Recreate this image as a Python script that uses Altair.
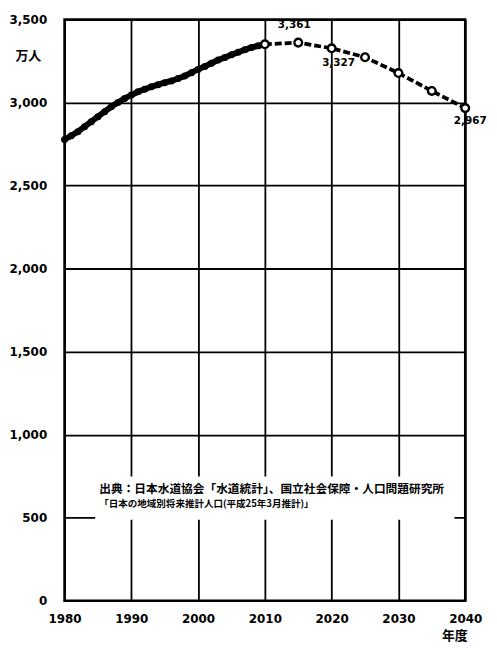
import altair as alt
import pandas as pd

# Historical (annual) values, 万人
hist_years = list(range(1980, 2011))
hist_vals = [2778, 2800, 2825, 2855, 2885, 2915, 2945, 2975, 3000, 3025,
             3045, 3065, 3080, 3095, 3108, 3120, 3130, 3145, 3160, 3180,
             3200, 3218, 3237, 3256, 3272, 3288, 3303, 3318, 3332, 3342,
             3351]

# Projection (every 5 years)
proj_years = [2010, 2015, 2020, 2025, 2030, 2035, 2040]
proj_vals = [3351, 3361, 3327, 3273, 3178, 3070, 2967]

# Labelled values
lab_years = [2015, 2020, 2040]
lab_vals = [3361, 3327, 2967]
lab_texts = ["3,361", "3,327", "2,967"]

source_line1 = "出典：日本水道協会「水道統計」、国立社会保障・人口問題研究所"
source_line2 = "「日本の地域別将来推計人口(平成25年3月推計)」"

x_ticks = [1980, 1990, 2000, 2010, 2020, 2030, 2040]
y_ticks = [0, 500, 1000, 1500, 2000, 2500, 3000, 3500]

hist = pd.DataFrame({"year": hist_years, "value": hist_vals})
proj = pd.DataFrame({"year": proj_years, "value": proj_vals})
labs = pd.DataFrame({"year": lab_years, "value": lab_vals, "text": lab_texts})

xscale = alt.Scale(domain=[1980, 2040], nice=False, zero=False)
yscale = alt.Scale(domain=[0, 3500], nice=False)

X = alt.X("year:Q", scale=xscale,
          axis=alt.Axis(values=x_ticks, format="d", title="年度",
                        titleAngle=0, titleX=393, titleY=29,
                        titleAlign="center", titleBaseline="top",
                        titleFontSize=13, titleFontWeight="bold",
                        titleFont="Noto Sans CJK JP",
                        labelFontSize=12, labelFontWeight="bold",
                        labelFlush=False, labelOverlap=False,
                        labelPadding=13, tickSize=0, domain=False,
                        grid=True, gridColor="black", gridWidth=1.8,
                        gridOpacity=1))
Y = alt.Y("value:Q", scale=yscale,
          axis=alt.Axis(values=y_ticks, format=",d", title="万人",
                        titleAngle=0, titleX=-37, titleY=36,
                        titleAlign="center", titleBaseline="middle",
                        titleFontSize=13, titleFontWeight="bold",
                        titleFont="Noto Sans CJK JP",
                        labelFontSize=12, labelFontWeight="bold",
                        labelFlush=False, labelOverlap=False,
                        labelPadding=18, tickSize=0, domain=False,
                        grid=True, gridColor="black", gridWidth=1.8,
                        gridOpacity=1))

base_grid = alt.Chart(hist).mark_line(opacity=0).encode(x=X, y=Y)

# white box behind the source note
box = alt.Chart(pd.DataFrame({"x": [1984.6], "x2": [2038.4],
                              "y": [488], "y2": [748]})).mark_rect(
    color="white").encode(
    x=alt.X("x:Q", scale=xscale), x2="x2:Q",
    y=alt.Y("y:Q", scale=yscale), y2="y2:Q")

notes = pd.DataFrame({"x": [1985.2, 1985.2], "y": [675, 585],
                      "text": [source_line1, source_line2]})
note1 = alt.Chart(notes.iloc[[0]]).mark_text(
    align="left", baseline="middle", fontSize=11.8, fontWeight="bold",
    font="Noto Sans CJK JP", color="black").encode(
    x=alt.X("x:Q", scale=xscale), y=alt.Y("y:Q", scale=yscale), text="text:N")
note2 = alt.Chart(notes.iloc[[1]]).mark_text(
    align="left", baseline="middle", fontSize=9.6, fontWeight="bold",
    font="Noto Sans CJK JP", color="black").encode(
    x=alt.X("x:Q", scale=xscale), y=alt.Y("y:Q", scale=yscale), text="text:N")

hist_line = alt.Chart(hist).mark_line(color="black", strokeWidth=6).encode(
    x=alt.X("year:Q", scale=xscale), y=alt.Y("value:Q", scale=yscale))
hist_pts = alt.Chart(hist).mark_circle(color="black", size=50, opacity=1).encode(
    x=alt.X("year:Q", scale=xscale), y=alt.Y("value:Q", scale=yscale))

proj_line = alt.Chart(proj).mark_line(color="black", strokeWidth=3.8,
                                      strokeDash=[7, 3]).encode(
    x=alt.X("year:Q", scale=xscale), y=alt.Y("value:Q", scale=yscale))
proj_pts = alt.Chart(proj).mark_point(shape="circle", filled=True, fill="white",
                                      stroke="black", strokeWidth=2.4,
                                      size=60, opacity=1).encode(
    x=alt.X("year:Q", scale=xscale), y=alt.Y("value:Q", scale=yscale))

offs = [(-4, -18), (7, 15), (5, 13)]
label_layers = []
for i, (dx, dy) in enumerate(offs):
    label_layers.append(
        alt.Chart(labs.iloc[[i]]).mark_text(
            fontSize=10.5, fontWeight="bold", font="DejaVu Sans",
            color="black", dx=dx, dy=dy, align="center",
            baseline="middle").encode(
            x=alt.X("year:Q", scale=xscale), y=alt.Y("value:Q", scale=yscale),
            text="text:N"))

chart = alt.layer(base_grid, box, note1, note2, hist_line, hist_pts,
                  proj_line, proj_pts, *label_layers).properties(
    width=404, height=586,
    autosize=alt.AutoSizeParams(type="none"),
    padding={"left": 57, "top": 9, "right": 24, "bottom": 46},
    background="white",
).configure_view(stroke="black", strokeWidth=2.5).configure_axis(
    labelFont="DejaVu Sans", labelColor="black", titleColor="black")

chart.save("out.html", embed_options={"renderer": "svg", "actions": False})
